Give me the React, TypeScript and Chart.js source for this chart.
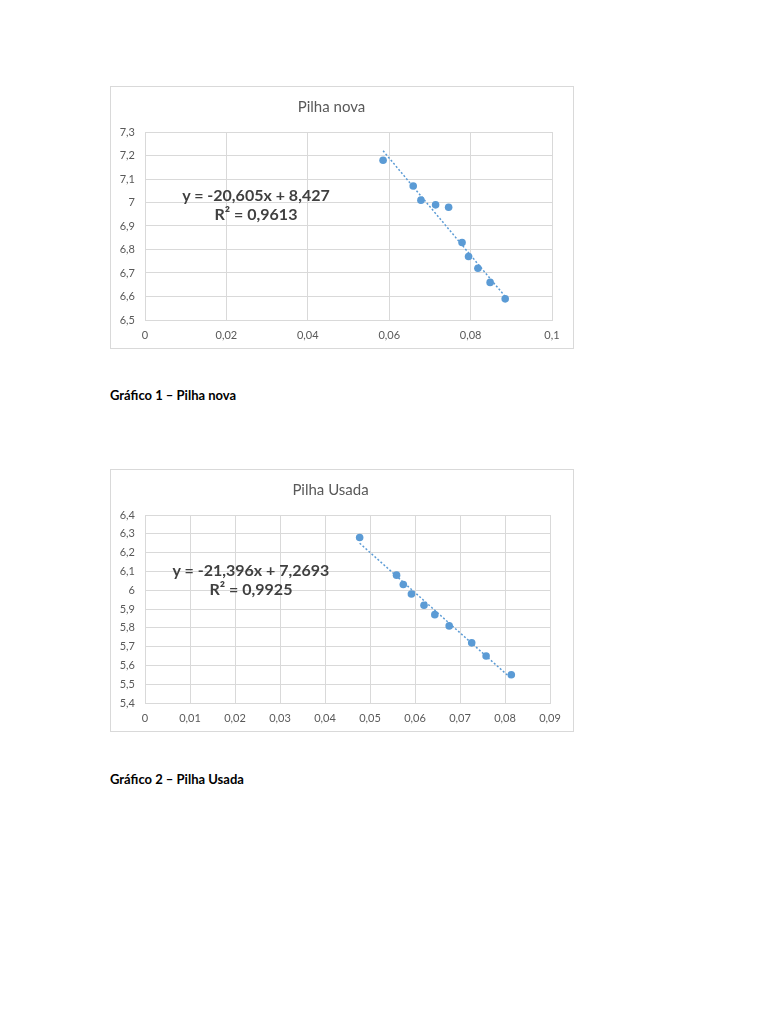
import { useEffect, useRef } from "react";
import { Chart, registerables } from "chart.js";

Chart.register(...registerables);

// Gráfico 1 – Pilha nova
const novaX = [0.0585, 0.0659, 0.0678, 0.0714, 0.0746, 0.0779, 0.0795, 0.0818, 0.0848, 0.0885];
const novaY = [7.18, 7.07, 7.01, 6.99, 6.98, 6.83, 6.77, 6.72, 6.66, 6.59];
const novaTrendX = [0.0585, 0.0885];
const novaTrendY = [7.22, 6.6];
const novaXTicks = [0, 0.02, 0.04, 0.06, 0.08, 0.1];
const novaYTicks = [6.5, 6.6, 6.7, 6.8, 6.9, 7, 7.1, 7.2, 7.3];

// Gráfico 2 – Pilha Usada
const usadaX = [0.0477, 0.0559, 0.0574, 0.0592, 0.062, 0.0644, 0.0676, 0.0726, 0.0758, 0.0814];
const usadaY = [6.28, 6.08, 6.03, 5.98, 5.92, 5.87, 5.81, 5.72, 5.65, 5.55];
const usadaTrendX = [0.0477, 0.0814];
const usadaTrendY = [6.25, 5.53];
const usadaXTicks = [0, 0.01, 0.02, 0.03, 0.04, 0.05, 0.06, 0.07, 0.08, 0.09];
const usadaYTicks = [5.4, 5.5, 5.6, 5.7, 5.8, 5.9, 6, 6.1, 6.2, 6.3, 6.4];

const FONT = "Lato, 'Open Sans', sans-serif";
const BLUE = "#5B9BD5";
const GRID = "#d9d9d9";

const fmt = (v: number) => String(Number(v.toFixed(4))).replace(".", ",");

interface ScatterCardProps {
  title: string;
  xs: number[];
  ys: number[];
  trendX: number[];
  trendY: number[];
  xTicks: number[];
  yTicks: number[];
  equation: string;
  r2: string;
  top: number;
  padRight: number;
  eqLeft: number;
  eqTop: number;
}

function ScatterCard(props: ScatterCardProps) {
  const chartRef = useRef<HTMLCanvasElement>(null);
  const chartInstance = useRef<Chart | null>(null);

  useEffect(() => {
    if (!chartRef.current) return;
    if (chartInstance.current) chartInstance.current.destroy();
    const ctx = chartRef.current.getContext("2d");
    if (!ctx) return;

    const { xs, ys, trendX, trendY, xTicks, yTicks } = props;

    chartInstance.current = new Chart(ctx, {
      type: "scatter",
      data: {
        datasets: [
          {
            label: "trend",
            type: "line",
            data: trendX.map((x, i) => ({ x, y: trendY[i] })),
            borderColor: BLUE,
            borderWidth: 1.5,
            borderDash: [2, 2],
            pointRadius: 0,
            fill: false,
          },
          {
            label: "pontos",
            data: xs.map((x, i) => ({ x, y: ys[i] })),
            backgroundColor: BLUE,
            borderColor: BLUE,
            borderWidth: 0,
            pointRadius: 3.8,
          },
        ],
      },
      options: {
        animation: false,
        responsive: true,
        maintainAspectRatio: false,
        layout: { padding: { left: 0, right: props.padRight, top: 0, bottom: 0 } },
        plugins: {
          legend: { display: false },
          tooltip: { enabled: false },
          title: {
            display: true,
            text: props.title,
            color: "#595959",
            font: { family: FONT, size: 15, weight: "normal", lineHeight: 1.2 },
            padding: { top: 11, bottom: 16 },
          },
        },
        scales: {
          x: {
            type: "linear",
            min: xTicks[0],
            max: xTicks[xTicks.length - 1],
            afterBuildTicks: (s) => {
              s.ticks = xTicks.map((value) => ({ value }));
            },
            afterFit: (s) => {
              s.height = 28;
            },
            grid: { color: GRID, drawTicks: false },
            border: { color: GRID },
            ticks: {
              padding: 9,
              color: "#595959",
              font: { family: FONT, size: 11 },
              callback: (v) => fmt(Number(v)),
            },
          },
          y: {
            type: "linear",
            min: yTicks[0],
            max: yTicks[yTicks.length - 1],
            afterBuildTicks: (s) => {
              s.ticks = yTicks.map((value) => ({ value }));
            },
            afterFit: (s) => {
              s.width = 34;
            },
            grid: { color: GRID, drawTicks: false },
            border: { color: GRID },
            ticks: {
              padding: 10,
              color: "#595959",
              font: { family: FONT, size: 11 },
              callback: (v) => fmt(Number(v)),
            },
          },
        },
      },
    });

    return () => {
      if (chartInstance.current) {
        chartInstance.current.destroy();
        chartInstance.current = null;
      }
    };
  }, [props]);

  return (
    <div
      style={{
        position: "absolute",
        left: 102,
        top: props.top,
        width: 464,
        height: 263,
        border: `1px solid ${GRID}`,
        boxSizing: "border-box",
        background: "#fff",
      }}
    >
      <canvas ref={chartRef} />
      <div
        style={{
          position: "absolute",
          left: props.eqLeft,
          top: props.eqTop,
          width: 200,
          textAlign: "center",
          fontFamily: FONT,
          fontWeight: "bold",
          fontSize: 16,
          lineHeight: "19px",
          color: "#404040",
        }}
      >
        <div>{props.equation}</div>
        <div>{props.r2}</div>
      </div>
    </div>
  );
}

const caption: React.CSSProperties = {
  position: "absolute",
  left: 102,
  fontFamily: FONT,
  fontWeight: "bold",
  fontSize: 13,
  color: "#000",
  margin: 0,
};

export default function App() {
  return (
    <div style={{ position: "relative", width: 752, height: 1008, background: "#fff" }}>
      <ScatterCard
        title="Pilha nova"
        xs={novaX}
        ys={novaY}
        trendX={novaTrendX}
        trendY={novaTrendY}
        xTicks={novaXTicks}
        yTicks={novaYTicks}
        equation="y = -20,605x + 8,427"
        r2="R² = 0,9613"
        top={78}
        padRight={21}
        eqLeft={45}
        eqTop={98}
      />
      <p style={{ ...caption, top: 379 }}>Gráfico 1 – Pilha nova</p>
      <ScatterCard
        title="Pilha Usada"
        xs={usadaX}
        ys={usadaY}
        trendX={usadaTrendX}
        trendY={usadaTrendY}
        xTicks={usadaXTicks}
        yTicks={usadaYTicks}
        equation="y = -21,396x + 7,2693"
        r2="R² = 0,9925"
        top={461}
        padRight={23}
        eqLeft={40}
        eqTop={90}
      />
      <p style={{ ...caption, top: 763 }}>Gráfico 2 – Pilha Usada</p>
    </div>
  );
}
